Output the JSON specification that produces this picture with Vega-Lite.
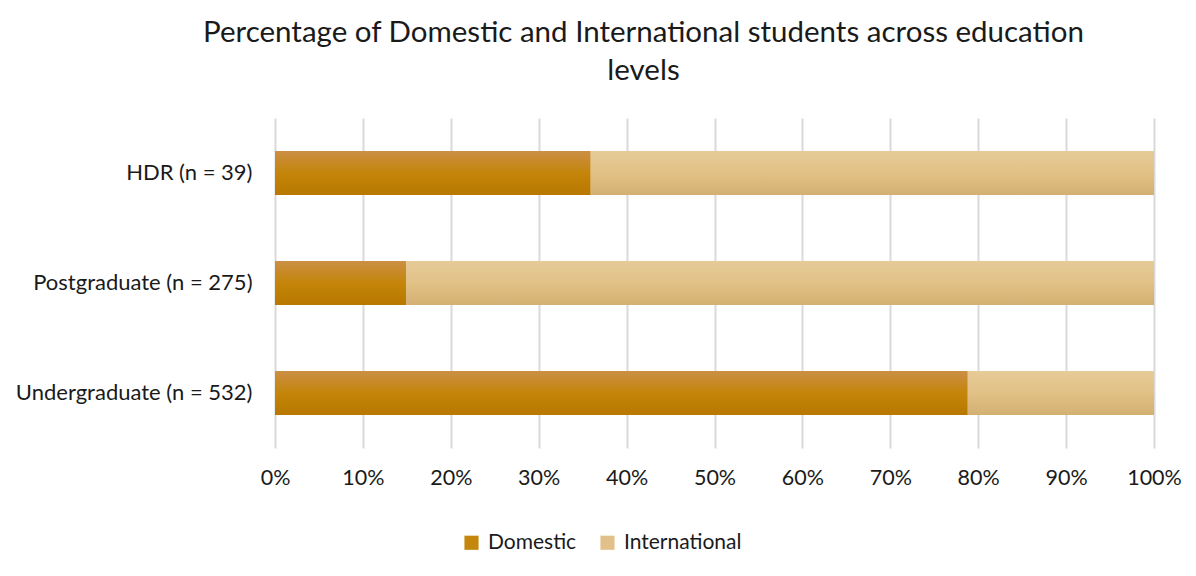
{
  "$schema": "https://vega.github.io/schema/vega-lite/v6.json",
  "width": 879,
  "height": 330,
  "autosize": {"type": "none"},
  "padding": {"left": 275, "top": 118, "right": 42, "bottom": 128},
  "background": "white",
  "title": {
    "text": ["Percentage of Domestic and International students across education", "levels"],
    "font": "Lato",
    "fontSize": 29.5,
    "fontWeight": "normal",
    "color": "#1a1a1a",
    "anchor": "middle",
    "frame": "group",
    "dx": -71,
    "lineHeight": 38,
    "offset": 32
  },
  "data": {
    "values": [
      {"level": "HDR (n = 39)", "series": "Domestic", "ord": 1, "pct": 35.9},
      {"level": "HDR (n = 39)", "series": "International", "ord": 2, "pct": 64.1},
      {"level": "Postgraduate (n = 275)", "series": "Domestic", "ord": 1, "pct": 14.9},
      {"level": "Postgraduate (n = 275)", "series": "International", "ord": 2, "pct": 85.1},
      {"level": "Undergraduate (n = 532)", "series": "Domestic", "ord": 1, "pct": 78.8},
      {"level": "Undergraduate (n = 532)", "series": "International", "ord": 2, "pct": 21.2}
    ]
  },
  "encoding": {
    "y": {
      "field": "level",
      "type": "nominal",
      "sort": ["HDR (n = 39)", "Postgraduate (n = 275)", "Undergraduate (n = 532)"],
      "scale": {"paddingInner": 0.6, "paddingOuter": 0.3},
      "axis": {
        "title": null,
        "domain": false,
        "ticks": false,
        "labelFont": "Lato",
        "labelFontSize": 22,
        "labelColor": "#1a1a1a",
        "labelPadding": 23,
        "labelLimit": 400
      }
    },
    "x": {
      "field": "pct",
      "type": "quantitative",
      "stack": "zero",
      "scale": {"domain": [0, 100]},
      "axis": {
        "title": null,
        "domain": false,
        "ticks": false,
        "values": [0, 10, 20, 30, 40, 50, 60, 70, 80, 90, 100],
        "labelExpr": "datum.value + '%'",
        "labelFont": "Lato",
        "labelFontSize": 21.5,
        "labelColor": "#1a1a1a",
        "labelPadding": 19,
        "labelOverlap": false,
        "labelFlush": false,
        "grid": true,
        "gridColor": "#d9d9d9",
        "gridWidth": 2
      }
    },
    "order": {"field": "ord", "type": "quantitative"}
  },
  "layer": [
    {
      "mark": {"type": "bar"},
      "encoding": {
        "color": {
          "field": "series",
          "type": "nominal",
          "scale": {"domain": ["Domestic", "International"], "range": ["#c4860c", "#e1c189"]},
          "legend": {
            "title": null,
            "orient": "none",
            "direction": "horizontal",
            "legendX": 186,
            "legendY": 414,
            "symbolType": "square",
            "symbolSize": 200,
            "symbolStrokeWidth": 0,
            "labelFont": "Lato",
            "labelFontSize": 21,
            "labelColor": "#1a1a1a",
            "columnPadding": 20,
            "labelOffset": 6
          }
        }
      }
    },
    {
      "mark": {"type": "bar"},
      "encoding": {
        "color": {
          "condition": {
            "test": "datum.series === 'Domestic'",
            "value": {"gradient": "linear", "x1": 0, "y1": 0, "x2": 0, "y2": 1,
              "stops": [{"offset": 0, "color": "#cb8f45"}, {"offset": 0.5, "color": "#c4850a"}, {"offset": 1, "color": "#b87800"}]}
          },
          "value": {"gradient": "linear", "x1": 0, "y1": 0, "x2": 0, "y2": 1,
            "stops": [{"offset": 0, "color": "#e6cb98"}, {"offset": 0.5, "color": "#e2c186"}, {"offset": 1, "color": "#d3b072"}]}
        }
      }
    }
  ],
  "config": {"view": {"stroke": null}}
}
